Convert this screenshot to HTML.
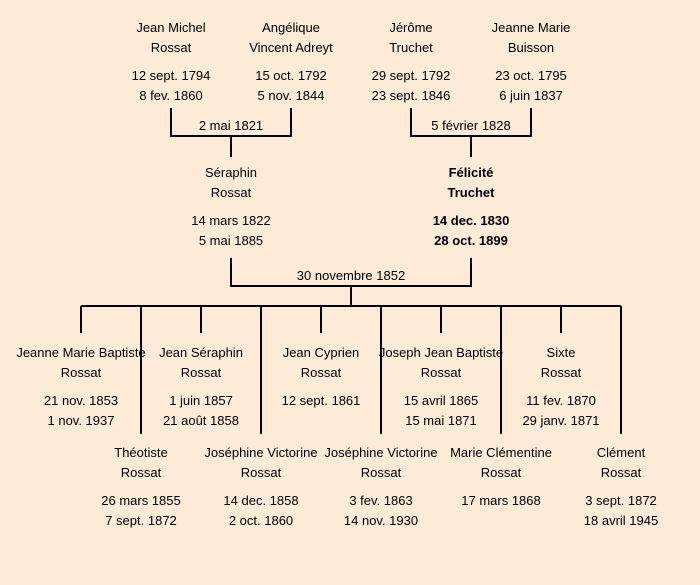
<!DOCTYPE html>
<html><head><meta charset="utf-8"><style>
html,body{margin:0;padding:0;background:#fdebd8;}
svg{display:block}
text{font-family:"Liberation Sans",sans-serif;font-size:13px;fill:#000;text-anchor:middle}
.b{font-weight:bold}
</style></head><body>
<svg width="700" height="585" viewBox="0 0 700 585">
<rect width="700" height="585" fill="#fdebd8"/>
<g stroke="#000" stroke-width="2" fill="none">
<path d="M171 108V136H291V108M231 136V157"/>
<path d="M411 108V136H531V108M471 136V157"/>
<path d="M231 258V286H471V258M351 286V306"/>
<path d="M81 306H621"/>
<path d="M81 306V333M201 306V333M321 306V333M441 306V333M561 306V333"/>
<path d="M141 306V434M261 306V434M381 306V434M501 306V434M621 306V434"/>
</g>
<g>
<text x="171" y="32">Jean Michel</text><text x="171" y="52">Rossat</text><text x="171" y="80">12 sept. 1794</text><text x="171" y="100">8 fev. 1860</text>
<text x="291" y="32">Angélique</text><text x="291" y="52">Vincent Adreyt</text><text x="291" y="80">15 oct. 1792</text><text x="291" y="100">5 nov. 1844</text>
<text x="411" y="32">Jérôme</text><text x="411" y="52">Truchet</text><text x="411" y="80">29 sept. 1792</text><text x="411" y="100">23 sept. 1846</text>
<text x="531" y="32">Jeanne Marie</text><text x="531" y="52">Buisson</text><text x="531" y="80">23 oct. 1795</text><text x="531" y="100">6 juin 1837</text>
<text x="231" y="130">2 mai 1821</text>
<text x="471" y="130">5 février 1828</text>
<text x="231" y="177">Séraphin</text><text x="231" y="197">Rossat</text><text x="231" y="225">14 mars 1822</text><text x="231" y="245">5 mai 1885</text>
<text class="b" x="471" y="177">Félicité</text><text class="b" x="471" y="197">Truchet</text><text class="b" x="471" y="225">14 dec. 1830</text><text class="b" x="471" y="245">28 oct. 1899</text>
<text x="351" y="280">30 novembre 1852</text>
<text x="81" y="357">Jeanne Marie Baptiste</text><text x="81" y="377">Rossat</text><text x="81" y="405">21 nov. 1853</text><text x="81" y="425">1 nov. 1937</text>
<text x="201" y="357">Jean Séraphin</text><text x="201" y="377">Rossat</text><text x="201" y="405">1 juin 1857</text><text x="201" y="425">21 août 1858</text>
<text x="321" y="357">Jean Cyprien</text><text x="321" y="377">Rossat</text><text x="321" y="405">12 sept. 1861</text>
<text x="441" y="357">Joseph Jean Baptiste</text><text x="441" y="377">Rossat</text><text x="441" y="405">15 avril 1865</text><text x="441" y="425">15 mai 1871</text>
<text x="561" y="357">Sixte</text><text x="561" y="377">Rossat</text><text x="561" y="405">11 fev. 1870</text><text x="561" y="425">29 janv. 1871</text>
<text x="141" y="457">Théotiste</text><text x="141" y="477">Rossat</text><text x="141" y="505">26 mars 1855</text><text x="141" y="525">7 sept. 1872</text>
<text x="261" y="457">Joséphine Victorine</text><text x="261" y="477">Rossat</text><text x="261" y="505">14 dec. 1858</text><text x="261" y="525">2 oct. 1860</text>
<text x="381" y="457">Joséphine Victorine</text><text x="381" y="477">Rossat</text><text x="381" y="505">3 fev. 1863</text><text x="381" y="525">14 nov. 1930</text>
<text x="501" y="457">Marie Clémentine</text><text x="501" y="477">Rossat</text><text x="501" y="505">17 mars 1868</text>
<text x="621" y="457">Clément</text><text x="621" y="477">Rossat</text><text x="621" y="505">3 sept. 1872</text><text x="621" y="525">18 avril 1945</text>
</g>
</svg>
</body></html>
